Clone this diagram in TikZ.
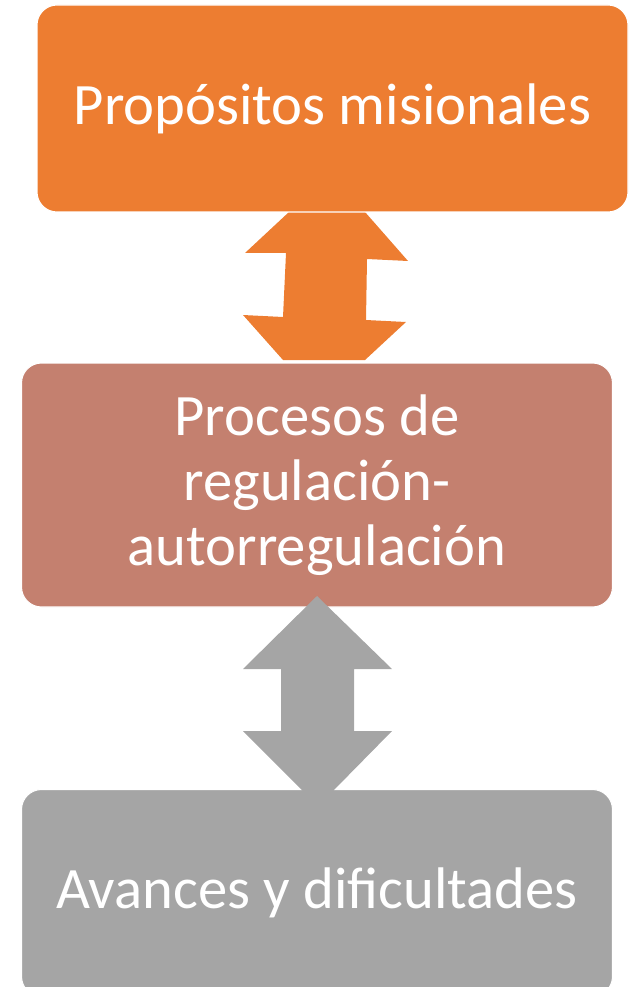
\documentclass[tikz,border=0pt]{standalone}
\usepackage{fontspec}
\setmainfont{Carlito}
\begin{document}
\begin{tikzpicture}[x=0.75pt,y=-0.75pt]
\tikzstyle{block node}=[rectangle,rounded corners=15pt,draw=white,line width=0.8pt,text=white,align=center,minimum width=443.25pt,font=\fontsize{44}{48.75}\selectfont]
\tikzset{
	orange fill/.style={fill={rgb,255:red,237;green,125;blue,49}},
	rose fill/.style={fill={rgb,255:red,196;green,128;blue,111}},
	grey fill/.style={fill={rgb,255:red,165;green,165;blue,165}}
}
\useasboundingbox (0,0) rectangle (638,987);
\clip (0,0) rectangle (638,987);
% orange double arrow
\fill[orange fill] (289,212) -- (365,212) -- (408,261) -- (367,259) -- (366,320) -- (406,322)
	-- (365,360) -- (283,360) -- (243,315) -- (283,317) -- (286,253) -- (245,253) -- cycle;
% boxes
\node[block node,orange fill,minimum height=155.25pt] (misional) at (332.5,108.5) {Propósitos misionales};
\node[block node,rose fill,minimum height=183pt] (proceso) at (317,485) {Procesos de\\regulación-\\autorregulación};
\node[block node,grey fill,minimum height=155.25pt] (avance) at (317,893) {Avances y dificultades};
% grey double arrow
\fill[grey fill] (317,596) -- (392,669) -- (354,669) -- (354,731) -- (392,731) -- (333,791)
	-- (303,791) -- (243,731) -- (281,731) -- (281,669) -- (243,669) -- cycle;
\end{tikzpicture}
\end{document}
